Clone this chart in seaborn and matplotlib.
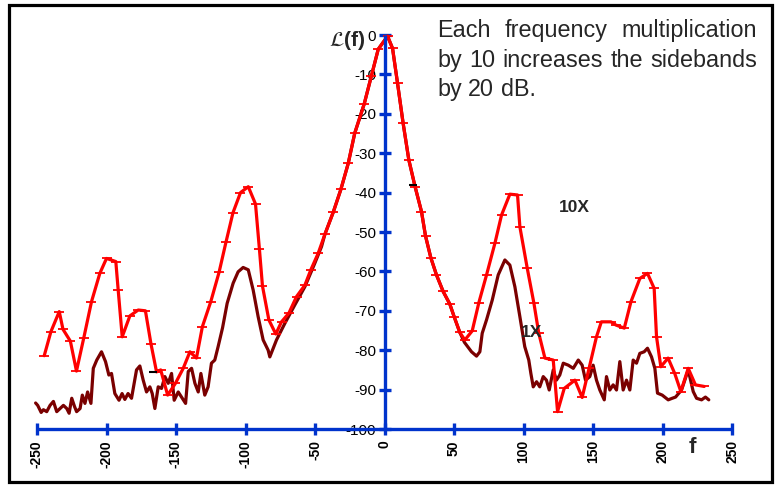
import seaborn as sns
import pandas as pd
import matplotlib.pyplot as plt
from matplotlib.patches import Rectangle

# 10X curve (red, with tick marks)
x_10x = [-244.8, -240, -234, -231.3, -226, -221.6, -216.3, -210.8, -204.8, -200,
         -193.3, -191.6, -188.7, -183.2, -177.2, -172, -168, -164, -161, -156,
         -150.4, -144.8, -140, -135.3, -131, -125, -119, -114, -109, -103.6,
         -98, -92.8, -90, -87.8, -83.2, -78.2, -74.1, -68.8, -63.3, -57.3,
         -53, -47.7, -42.9, -36.9, -31.4, -26.1, -21.4, -14.6, -9.5, -4.5,
         2.2, 5.8, 9.4, 13.4, 17.5, 22, 26.6, 29.5, 33.3, 37.4,
         42.2, 47, 50.1, 54.2, 57.8, 63.1, 67.9, 73.4, 79.4, 84.2,
         90.2, 95.7, 97.4, 102.7, 107.5, 111, 115.4, 121.4, 124.5, 129.3,
         137, 142.2, 147.3, 152.5, 156, 162.9, 166.4, 172.5, 177.3, 183.7,
         189.2, 194, 195.7, 198.8, 204, 208.8, 213.2, 218.5, 223.7, 230]
y_10x = [-81.4, -75.3, -70.2, -74.7, -77.7, -85.3, -76.8, -67.7, -60.5, -56.7,
         -57.5, -64.7, -76.6, -71.3, -69.8, -70, -78.4, -85.5, -85, -91.4,
         -88.4, -84.6, -80.4, -82, -74, -67.7, -60.2, -52.5, -45.1, -40,
         -38.5, -42.9, -54.3, -63.7, -72.3, -75.9, -72.8, -70.6, -66.4, -63.5,
         -59.6, -55.4, -50.6, -45, -39.2, -32.6, -24.9, -17.5, -10.5, -3.6,
         -0.3, -3.4, -12.3, -22.4, -31.7, -38.5, -44.8, -51, -56.5, -60.9,
         -65.1, -68.3, -71.5, -75.5, -77.4, -75.1, -67.9, -60.9, -52.9, -45.7,
         -40.4, -40.6, -48.7, -59.2, -68.1, -75.7, -82, -82.5, -95.6, -89.7,
         -87.6, -92, -84.4, -76.6, -72.8, -72.8, -73.6, -74.4, -67.7, -61.8,
         -60.5, -64.3, -76.6, -84.2, -82, -85.9, -90.5, -84.6, -88.8, -89.2]

# 1X curve (dark red)
x_1x = [-251, -249.5, -247, -245.4, -243, -240.6, -238.2, -235.8, -233.4, -231,
        -228.6, -226.9, -225, -223, -221.5, -219, -217.4, -215.5, -213.6, -211.2,
        -209.5, -207, -203.6, -200.7, -198.3, -196.4, -194, -191, -188.8, -186.8,
        -184.5, -182, -178.4, -176, -173.6, -171.2, -168.8, -167.1, -165.2, -162.8,
        -160.4, -158, -155.6, -153.2, -151.3, -148.4, -146, -143.1, -141.2, -138.8,
        -136.4, -134, -132.1, -129.3, -126.9, -124.5, -122.1, -119.7, -116.5, -113.2,
        -108.9, -105.3, -101.7, -98, -94.5, -90.9, -87.3, -83.7, -82.5, -77.7,
        -71.7, -64.5, -57.3, -50.1, -45.3, -42.9, -36.9, -31.4, -26.1, -21.4,
        -14.6, -9.5, -4.5, 2.2, 5.8, 9.4, 13.4, 17.5, 22, 26.6,
        29.5, 33.3, 37.4, 42.2, 47, 50.1, 54.2, 57.5, 62.6, 66.2,
        68.6, 70.3, 73.4, 77.5, 81.8, 86.6, 90.2, 93.8, 97.4, 100.9,
        103.8, 105.3, 107, 109.4, 111.7, 114.2, 116.5, 118.5, 121.4, 123.7,
        126.1, 128.6, 132.2, 135.8, 139.4, 142.2, 144.6, 147.7, 150.1, 152.5,
        154.9, 158.1, 159.7, 162.1, 164.5, 166.9, 169.3, 171.7, 174.1, 176.5,
        178.9, 181.3, 183.7, 186.8, 189.2, 192.1, 194.5, 196.4, 199.8, 204.1,
        207, 209.4, 213.7, 218.5, 222.1, 224.5, 228.1, 230.9, 233.3]
y_1x = [-93.4, -94, -95.8, -95.1, -95.6, -94, -93, -95.6, -94.8, -94,
        -94.8, -96, -92.2, -94.3, -95.6, -94.8, -91.4, -93.5, -90.6, -93.5,
        -84.6, -82.5, -80.4, -82.9, -86.3, -85.9, -91, -92.7, -91, -92.5,
        -91, -92.2, -85, -84, -87.6, -90.6, -89.3, -91, -94.8, -89.3,
        -89.7, -86.7, -88.4, -85.9, -92.7, -90.6, -91.9, -93.5, -85.4, -84.6,
        -88.4, -90.6, -85.9, -91.4, -89.3, -83.3, -82.5, -79.1, -74.3, -68.1,
        -63, -60.1, -59, -59.6, -64.7, -71.5, -77.4, -80, -81.7, -77.4,
        -73.2, -68.5, -63.9, -57.9, -53.7, -50.6, -45, -39.2, -32.6, -24.9,
        -17.5, -10.5, -3.6, -0.3, -3.4, -12.3, -22.4, -31.7, -38.5, -44.8,
        -51, -56.5, -60.9, -65.1, -68.3, -71.5, -75.5, -78, -80.4, -81.5,
        -80.4, -75.7, -72.3, -67.3, -60.9, -57.1, -58.4, -63.9, -71.5, -79.1,
        -82.5, -85.9, -89.3, -88, -89.3, -86.7, -87.6, -90.1, -85, -87.6,
        -86.3, -83.3, -83.8, -84.6, -82.5, -83.8, -87.6, -86.7, -83.8, -87.6,
        -90.1, -92.6, -86.7, -90.1, -88.8, -90.1, -82.9, -90.1, -87.6, -90.1,
        -82.5, -83.3, -80.8, -80.4, -79.5, -81.7, -84.6, -90.9, -91.4, -92.6,
        -92.2, -91.9, -90.1, -85, -90.5, -92.2, -92.6, -91.9, -92.6]

# two small stray dashes in the original drawing
stray_x = [20.5, -166.2]
stray_y = [-38, -85.5]

x_ticks = [-250, -200, -150, -100, -50, 0, 50, 100, 150, 200, 250]
y_ticks = [0, -10, -20, -30, -40, -50, -60, -70, -80, -90, -100]

blue = '#0033cc'
red = '#ff0000'
maroon = '#7a0000'

sns.set_theme(style='white')
plt.rcParams['font.family'] = ['Liberation Sans', 'DejaVu Sans']
plt.rcParams['mathtext.fontset'] = 'stix'

fig = plt.figure(figsize=(7.84, 4.9), dpi=100)
W, H = 784, 490
ax = fig.add_axes([37 / W, 1 - 429 / H, 695 / W, 394 / H])
ax.patch.set_alpha(0)

df_1x = pd.DataFrame({'f': x_1x, 'L': y_1x})
df_10x = pd.DataFrame({'f': x_10x, 'L': y_10x})
sns.lineplot(data=df_1x, x='f', y='L', ax=ax, color=maroon, lw=2.3,
             estimator=None, sort=False, clip_on=False)
sns.lineplot(data=df_10x, x='f', y='L', ax=ax, color=red, lw=2.3,
             marker='_', markersize=7, markeredgewidth=1.3, markeredgecolor=red,
             estimator=None, sort=False, clip_on=False)
ax.plot(stray_x, stray_y, ls='none', marker='_', color='black',
        markersize=6, markeredgewidth=1.5)

ax.set_xlim(-250, 250)
ax.set_ylim(-100, 0)
ax.set_xticks(x_ticks)
ax.set_yticks(y_ticks)
ax.set_xticklabels([str(v) for v in x_ticks], fontweight='bold', fontsize=10)
ax.set_yticklabels([str(v) for v in y_ticks], fontweight='bold', fontsize=10)
ax.set_xlabel('')
ax.set_ylabel('')
ax.grid(False)

for side in ['top', 'right']:
    ax.spines[side].set_visible(False)
ax.spines['left'].set_position(('data', 0))
for side in ['left', 'bottom']:
    ax.spines[side].set_color(blue)
    ax.spines[side].set_linewidth(2.4)
    ax.spines[side].set_capstyle('butt')
ax.tick_params(axis='both', bottom=True, left=True, direction='inout',
               length=8, width=2.4, color=blue, labelcolor='black')
ax.tick_params(axis='x', labelrotation=90, pad=4)
ax.tick_params(axis='y', pad=2)

ax.text(-13.5, -1.5, r'$\mathcal{L}$(f)', fontsize=15, fontweight='bold',
        ha='right', va='center')
ax.text(221.6, -104.8, 'f', fontsize=16, fontweight='bold',
        ha='center', va='center', clip_on=False)
ax.text(136.3, -43.9, '10X', fontsize=12.5, fontweight='bold',
        ha='center', va='center')
ax.text(105.8, -75.4, '1X', fontsize=12.5, fontweight='bold',
        ha='center', va='center')

# justified note in the upper right
renderer = fig.canvas.get_renderer()


def justify_line(words, x0, x1, base, justify=True):
    texts = [fig.text(x0 / W, 1 - base / H, w, fontsize=16.8, va='baseline')
             for w in words]
    widths = [t.get_window_extent(renderer).width for t in texts]
    if justify and len(words) > 1:
        gap = (x1 - x0 - sum(widths)) / (len(words) - 1)
    else:
        gap = texts[0].get_fontsize() * 0.278 * 100 / 72
    pos = x0
    for t, w in zip(texts, widths):
        t.set_x(pos / W)
        pos += w + gap


justify_line(['Each', 'frequency', 'multiplication'], 437, 757, 37)
justify_line(['by', '10', 'increases', 'the', 'sidebands'], 437, 757, 67)
justify_line(['by', '20', 'dB.'], 437, 757, 96, justify=False)

fig.add_artist(Rectangle((9 / W, 1 - 481.5 / H), 762.5 / W, 476 / H,
                         transform=fig.transFigure, fill=False,
                         ec='black', lw=2.3))

fig.savefig('out.png', dpi=100)
